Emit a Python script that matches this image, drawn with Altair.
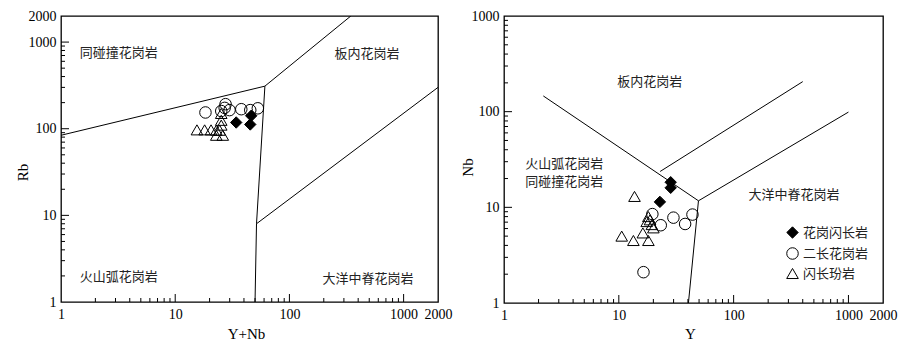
import altair as alt
import pandas as pd

# ---------------- data ----------------
GROUPS = ["花岗闪长岩", "二长花岗岩", "闪长玢岩"]

# Left panel: Rb vs Y+Nb
L_gd_x = [34.2, 45.4, 46.3]
L_gd_y = [118, 112, 141]
L_mg_x = [18.4, 27.1, 29.9, 25.3, 37.9, 45.4, 52.9, 27.6]
L_mg_y = [154, 174, 164, 160, 168, 164, 172, 192]
L_dp_x = [15.5, 18.1, 20.6, 22.9, 25.3, 25.3, 25.3, 22.9, 26.1, 24.5]
L_dp_y = [97, 97, 97, 96, 150, 125, 110, 84, 84, 96]

# Right panel: Nb vs Y
R_gd_x = [28.3, 28.3, 22.8]
R_gd_y = [18.3, 16.0, 11.4]
R_mg_x = [19.6, 23.2, 29.9, 37.8, 43.8, 16.4]
R_mg_y = [8.5, 6.5, 7.8, 6.7, 8.4, 2.1]
R_dp_x = [13.7, 10.6, 13.4, 16.2, 18.1, 17.5, 18.7, 19.4, 20.0, 18.1]
R_dp_y = [13.0, 5.0, 4.5, 5.4, 4.5, 7.1, 7.4, 6.6, 6.1, 8.0]

# Boundary lines (segment id, x, y)
L_line_id = [0, 0, 0, 1, 1, 1, 2, 2]
L_line_x = [1, 61, 345, 61, 51.5, 50, 51.5, 2000]
L_line_y = [84, 310, 2000, 310, 8, 1, 8, 300]

R_line_id = [0, 0, 0, 1, 1, 2, 2]
R_line_x = [2.2, 49.4, 40.4, 22.9, 400, 49.4, 1000]
R_line_y = [146, 11.7, 1, 23.7, 206, 11.7, 99]

# Field labels
L_lab_text = ["同碰撞花岗岩", "板内花岗岩", "火山弧花岗岩", "大洋中脊花岗岩"]
L_lab_x = [1.46, 248, 1.46, 195]
L_lab_y = [757, 736, 1.96, 1.85]

R_lab_text = ["板内花岗岩", "火山弧花岗岩", "同碰撞花岗岩", "大洋中脊花岗岩"]
R_lab_x = [9.7, 1.53, 1.53, 135]
R_lab_y = [206, 28.7, 18.6, 13.3]

LABEL_VALUES_X = [1, 10, 100, 1000, 2000]
L_LABEL_VALUES_Y = [1, 10, 100, 1000, 2000]
R_LABEL_VALUES_Y = [1, 10, 100, 1000]
MAJOR = [10, 100, 1000]
MINOR = [m * d for d in (1, 10, 100) for m in range(2, 10)]

SERIF = "Liberation Serif"
CJK = "Noto Sans CJK SC"


def points_df(gx, gy, mx, my, dx, dy):
    rows = []
    for xs, ys, g in ((gx, gy, GROUPS[0]), (mx, my, GROUPS[1]), (dx, dy, GROUPS[2])):
        for a, b in zip(xs, ys):
            rows.append({"x": a, "y": b, "g": g})
    return pd.DataFrame(rows)


def panel(W, H, ymax, ylabels, pts, lid, lx, ly, lt, ltx, lty, xtitle, ytitle,
          xt_pos, yt_pos, show_legend):
    xs = alt.Scale(type="log", domain=[1, 2000], nice=False)
    ys = alt.Scale(type="log", domain=[1, ymax], nice=False)
    xaxis = alt.Axis(values=LABEL_VALUES_X, format="d", title=xtitle, labelFlush=False,
                     labelOverlap=False, titleX=xt_pos[0], titleY=xt_pos[1])
    yaxis = alt.Axis(values=ylabels, format="d", title=ytitle, labelFlush=False,
                     labelOverlap=False, titleX=yt_pos[0], titleY=yt_pos[1])

    def X(f="x"):
        return alt.X(f, type="quantitative", scale=xs, axis=xaxis)

    def Y(f="y"):
        return alt.Y(f, type="quantitative", scale=ys, axis=yaxis)

    ldf = pd.DataFrame({"id": lid, "x": lx, "y": ly, "k": list(range(len(lid)))})
    lines = alt.Chart(ldf).mark_line(color="black", strokeWidth=1, clip=True).encode(
        x=X(), y=Y(), detail="id:N", order="k:Q")

    ymax_ticks_major = [v for v in MAJOR if v < ymax]
    ymax_ticks_minor = [v for v in MINOR if v < ymax]

    xt_major = alt.Chart(pd.DataFrame({"x": MAJOR})).mark_rule(color="black", strokeWidth=1).encode(
        x=X(), y=alt.value(H), y2=alt.value(H - 8))
    xt_minor = alt.Chart(pd.DataFrame({"x": MINOR})).mark_rule(color="black", strokeWidth=1).encode(
        x=X(), y=alt.value(H), y2=alt.value(H - 4))
    yt_major = alt.Chart(pd.DataFrame({"y": ymax_ticks_major})).mark_rule(color="black", strokeWidth=1).encode(
        y=Y(), x=alt.value(0), x2=alt.value(8))
    yt_minor = alt.Chart(pd.DataFrame({"y": ymax_ticks_minor})).mark_rule(color="black", strokeWidth=1).encode(
        y=Y(), x=alt.value(0), x2=alt.value(4))

    texts = alt.Chart(pd.DataFrame({"t": lt, "x": ltx, "y": lty})).mark_text(
        font=CJK, fontSize=13, align="left", baseline="middle", color="#222"
    ).encode(x=X(), y=Y(), text="t:N")

    if show_legend:
        leg = alt.Legend(orient="none", legendX=282, legendY=210,
                         labelFont=CJK, labelFontSize=13, labelColor="#222",
                         symbolStrokeColor="black", symbolStrokeWidth=1,
                         rowPadding=4, labelOffset=4, padding=0)
    else:
        leg = None

    shape = alt.Shape("g:N", title="", scale=alt.Scale(domain=GROUPS, range=["diamond", "circle", "triangle-up"]),
                      legend=leg)
    fill = alt.Fill("g:N", title="", scale=alt.Scale(domain=GROUPS, range=["black", "transparent", "transparent"]),
                    legend=leg)
    stroke = alt.Stroke("g:N", title="", scale=alt.Scale(domain=GROUPS, range=["black", "black", "black"]),
                        legend=leg)
    size = alt.Size("g:N", title="", scale=alt.Scale(domain=GROUPS, range=[130, 135, 165]), legend=leg)

    pts_layer = alt.Chart(pts).mark_point(filled=True, strokeWidth=1, opacity=1).encode(
        x=X(), y=Y(), shape=shape, fill=fill, stroke=stroke, size=size)

    return alt.layer(lines, xt_major, xt_minor, yt_major, yt_minor, texts, pts_layer).properties(
        width=W, height=H)


left = panel(377, 286, 2000, L_LABEL_VALUES_Y,
             points_df(L_gd_x, L_gd_y, L_mg_x, L_mg_y, L_dp_x, L_dp_y),
             L_line_id, L_line_x, L_line_y, L_lab_text, L_lab_x, L_lab_y,
             "Y+Nb", "Rb", (185, 24), (-31, 156), False)

right = panel(379, 287, 1000, R_LABEL_VALUES_Y,
              points_df(R_gd_x, R_gd_y, R_mg_x, R_mg_y, R_dp_x, R_dp_y),
              R_line_id, R_line_x, R_line_y, R_lab_text, R_lab_x, R_lab_y,
              "Y", "Nb", (186, 23), (-29, 151), True)

chart = alt.hconcat(left, right, spacing=66, bounds="flush").resolve_scale(
    shape="independent", fill="independent", size="independent", stroke="independent"
).resolve_legend(shape="independent", fill="independent", size="independent", stroke="independent").properties(
    padding={"left": 14, "top": 8, "right": 5, "bottom": 5}, background="white"
).configure_view(
    stroke="black", strokeWidth=1.3
).configure_axis(
    domain=False, ticks=False, tickSize=0, grid=False,
    labelFont=SERIF, labelFontSize=14, labelColor="black", labelPadding=5,
    titleFont=SERIF, titleFontSize=15, titleFontWeight="normal", titleColor="black"
)

chart.save("out.html", embed_options={"renderer": "svg", "actions": False})
